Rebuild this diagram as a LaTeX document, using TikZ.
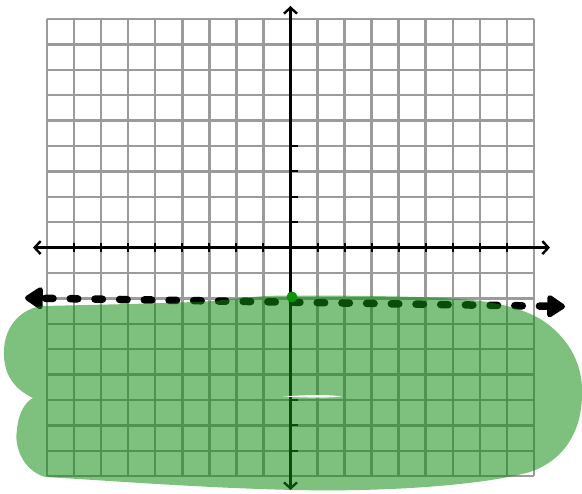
\documentclass[tikz,border=0pt]{standalone}
\usetikzlibrary{arrows.meta}
\definecolor{gridgray}{RGB}{155,155,155}
\definecolor{shade}{RGB}{20,140,20}
\definecolor{dotgreen}{RGB}{10,150,10}
\tikzset{
  barb/.tip={Straight Barb[length=6pt,width=13pt]},
  boundtip/.tip={Triangle[round,length=20pt,width=25pt]}
}
\begin{document}
\begin{tikzpicture}[x=1pt,y=-1pt,
  gridline/.style={gridgray, line width=2.5pt},
  axisline/.style={black, line width=2.4pt},
  tickline/.style={black, line width=2pt},
  bound/.style={black, line width=7.5pt, line cap=round, dash pattern=on 7.5pt off 17.2pt, dash phase=-4pt},
  region/.style={fill=shade, fill opacity=0.55},
  vertex/.style={fill=dotgreen}]
\useasboundingbox (0,0) rectangle (582,494);
% grid
\foreach \i in {0,...,18} {
  \draw[gridline] ({47+27.05*\i},19) -- ({47+27.05*\i},476);
}
\foreach \j in {0,...,18} {
  \draw[gridline] (47,{19+25.4*\j}) -- (534,{19+25.4*\j});
}
% axes
\coordinate (xl) at (33,247.6);
\coordinate (xr) at (550,247.6);
\coordinate (yt) at (290.5,6);
\coordinate (yb) at (290.5,490);
\draw[axisline, barb-barb] (xl) -- (xr);
\draw[axisline, barb-barb] (yb) -- (yt);
% ticks
\foreach \i in {1,...,8,10,11,...,17} {
  \draw[tickline] ({47+27.05*\i},243.5) -- ({47+27.05*\i},251.7);
}
\foreach \j in {5,6,7,8,15,16,17} {
  \draw[tickline] (290.5,{19+25.4*\j}) -- (297.5,{19+25.4*\j});
}
% boundary line
\coordinate (dl) at (25,298);
\coordinate (dr) at (565,306.5);
\draw[bound, boundtip-boundtip] (dl) -- (dr);
% shaded region
\path[region] (43,306)
  .. controls (110,304.5) and (180,303) .. (215,301)
  .. controls (240,298) and (260,295.5) .. (291,295.5)
  .. controls (380,295.5) and (450,297) .. (480,301)
  .. controls (510,305) and (530,312) .. (545,322)
  .. controls (570,340) and (582,365) .. (582,390)
  .. controls (583,430) and (565,460) .. (530,472)
  .. controls (480,486) and (380,492) .. (295,490)
  .. controls (200,488) and (100,480) .. (45,477)
  .. controls (22,470) and (14,445) .. (17,430)
  .. controls (18,414) and (25,402) .. (33,398)
  .. controls (12,388) and (3,372) .. (4,350)
  .. controls (5,325) and (22,308) .. (43,306) -- cycle;
% point
\fill[vertex] (292,297) circle (5.5);
% white streak
\fill[white, opacity=0.9] (283,396.5) .. controls (310,394.5) and (330,394.5) .. (342,396.5)
  .. controls (330,398) and (310,398) .. (283,396.5) -- cycle;
\end{tikzpicture}
\end{document}
